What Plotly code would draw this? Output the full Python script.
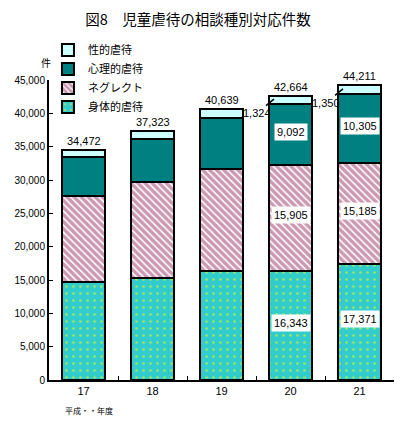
import plotly.graph_objects as go

years = ["17", "18", "19", "20", "21"]
physical = [14712, 15364, 16296, 16343, 17371]
neglect = [12911, 14365, 15429, 15905, 15185]
psych = [5797, 6414, 7621, 9092, 10305]
sexual = [1052, 1180, 1293, 1324, 1350]
totals = [34472, 37323, 40639, 42664, 44211]

names = ["身体的虐待", "ネグレクト", "心理的虐待", "性的虐待"]

JP = "Noto Sans CJK JP"
NUM = "Liberation Sans"

fig = go.Figure()
line = dict(color="black", width=2)
fig.add_bar(x=years, y=physical, name=names[0],
            marker=dict(color="#33CCCC", line=line,
                        pattern=dict(shape=".", fgcolor="#FFFF00", bgcolor="#33CCCC",
                                     size=7, solidity=0.12)))
fig.add_bar(x=years, y=neglect, name=names[1],
            marker=dict(color="#993366", line=line,
                        pattern=dict(shape="\\", fgcolor="#993366", bgcolor="white",
                                     size=5, solidity=0.7)))
fig.add_bar(x=years, y=psych, name=names[2],
            marker=dict(color="#008080", line=line))
fig.add_bar(x=years, y=sexual, name=names[3],
            marker=dict(color="#CCFFFF", line=line))

ann = []
# totals (x given as category index)
for i, t in enumerate(totals):
    ann.append(dict(x=i, y=t, text=f"{t:,}", showarrow=False, yanchor="bottom",
                    yshift=1, font=dict(family=NUM, size=11, color="black")))

# inner labels for 20 and 21
for i in (3, 4):
    b0 = physical[i]
    b1 = b0 + neglect[i]
    b2 = b1 + psych[i]
    for base, val in ((0, physical[i]), (b0, neglect[i]), (b1, psych[i])):
        ann.append(dict(x=i, y=base + val / 2, text=f"{val:,}", showarrow=False,
                        yshift=3, bgcolor="white", borderpad=2,
                        font=dict(family=NUM, size=11, color="black")))
    # sexual abuse label with leader line
    ann.append(dict(x=i - 0.24, y=b2 + sexual[i] * 0.6, text=f"{sexual[i]:,}",
                    showarrow=True, arrowhead=0, arrowwidth=1.5, arrowcolor="black",
                    ax=-17, ay=14, standoff=0, startstandoff=0,
                    font=dict(family=NUM, size=11, color="black")))

ann.append(dict(xref="paper", yref="paper", x=-0.03, y=1.09, text="件", showarrow=False,
                font=dict(family=JP, size=10, color="black")))
ann.append(dict(xref="paper", yref="paper", x=0.04, y=-0.127, text="平成・・年度",
                showarrow=False, xanchor="left",
                font=dict(family=JP, size=8, color="black")))

fig.update_layout(
    width=400, height=418,
    margin=dict(l=41, r=14, t=72, b=46, autoexpand=False),
    barmode="stack", bargap=0.39,
    plot_bgcolor="white", paper_bgcolor="white",
    title=dict(text="図8　児童虐待の相談種別対応件数", x=0.475, xanchor="center",
               y=0.972, yanchor="middle", font=dict(family=JP, size=14.5, color="black")),
    legend=dict(x=-0.003, y=1.148, xanchor="left", yanchor="top", traceorder="reversed",
                font=dict(family=JP, size=11, color="black"), tracegroupgap=0,
                bgcolor="rgba(0,0,0,0)", itemwidth=30),
    annotations=ann,
    showlegend=True,
)
fig.update_yaxes(range=[0, 45000], dtick=5000, tickformat=",", showgrid=False,
                 showline=True, linecolor="black", linewidth=2,
                 ticks="inside", ticklen=4, tickcolor="black",
                 tickfont=dict(family=NUM, size=10, color="black"))
fig.update_xaxes(type="category", range=[-0.5, 4.5], showgrid=False, showline=True,
                 linecolor="black", linewidth=2,
                 ticks="inside", tickson="boundaries", ticklen=4, tickcolor="black",
                 tickfont=dict(family=NUM, size=11, color="black"))

fig.write_html("out.html")
